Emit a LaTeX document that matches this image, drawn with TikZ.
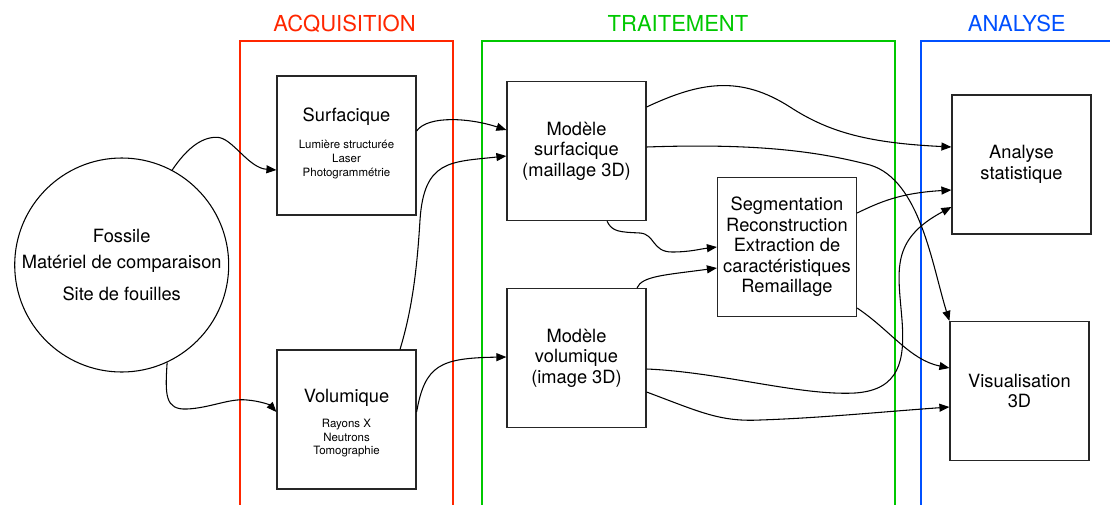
\documentclass[tikz,border=0pt]{standalone}
\usepackage{fontspec}
\setmainfont{TeX Gyre Heros}
\usetikzlibrary{arrows.meta}
\definecolor{acqred}{RGB}{255,38,0}
\definecolor{trtgreen}{RGB}{0,200,0}
\definecolor{anablue}{RGB}{0,80,255}
\newcommand\mainsz{\fontsize{13.7}{15.4}\selectfont}
\newcommand\smallsz{\fontsize{8.6}{10.2}\selectfont}
\newcommand\titlesz{\fontsize{16.5}{19}\selectfont}
\begin{document}
\begin{tikzpicture}[x=0.75pt,y=-0.75pt,
  blk/.style={draw=black!85,line width=0.9pt,minimum width=104.25pt,minimum height=104.25pt,inner sep=0pt,align=center,font=\mainsz},
  arr/.style={draw=black,line width=0.8pt,-{Triangle[length=7.5pt,width=6pt]}},
  frame/.style={line width=1.5pt},
  ttl/.style={anchor=base,font=\titlesz},
  smalltxt/.style={align=center,font=\smallsz,inner sep=0pt},
  maintxt/.style={anchor=base,font=\mainsz,inner sep=0pt}]
\useasboundingbox (0,0) rectangle (1110,504);
% frames
\draw[frame,acqred] (240.3,520) -- (240.3,40.7) -- (452.7,40.7) -- (452.7,520);
\draw[frame,trtgreen] (481.7,520) -- (481.7,40.7) -- (895,40.7) -- (895,520);
\draw[frame,anablue] (920.7,520) -- (920.7,40.7) -- (1130,40.7);
\node[ttl,text=acqred] (tacq) at (344.5,31.7) {ACQUISITION};
\node[ttl,text=trtgreen] (ttrt) at (678,31.7) {TRAITEMENT};
\node[ttl,text=anablue] (tana) at (1016.7,31.7) {ANALYSE};
% source
\node[draw=black,line width=0.8pt,circle,minimum size=160.5pt,inner sep=0pt,align=center,font=\mainsz] (fossile) at (121.7,265)
  {Fossile\\[4.2pt]Matériel de comparaison\\[8.8pt]Site de fouilles};
% boxes
\node[blk] (surf) at (346.5,145.5) {};
\node[maintxt] (surft) at (346.5,121.5) {Surfacique};
\node[smalltxt] (surfl) at (346.5,159.5) {Lumière structurée\\Laser\\Photogrammétrie};
\node[blk] (vol) at (346.5,419.5) {};
\node[maintxt] (volt) at (346.5,402.7) {Volumique};
\node[smalltxt] (voll) at (346.5,438.2) {Rayons X\\Neutrons\\Tomographie};
\node[blk] (msurf) at (576.5,151) {Modèle\\surfacique\\(maillage 3D)};
\node[blk] (mvol) at (576.5,358) {Modèle\\volumique\\(image 3D)};
\node[blk] (seg) at (787,247) {Segmentation\\Reconstruction\\Extraction de\\caractéristiques\\Remaillage};
\node[blk] (stat) at (1021.5,164.5) {Analyse\\statistique};
\node[blk] (visu) at (1019.5,391) {Visualisation\\3D};
% connectors
\draw[arr] (fossile.62.8) .. controls (185,151) and (200,137) .. (216.7,137.3)
  .. controls (232,137) and (248,168) .. (surf.west |- 0,170);
\draw[arr] (fossile.-65.4) .. controls (165,395) and (165,410) .. (187,409)
  .. controls (210,408) and (230,398) .. (247,400)
  .. controls (260,401) and (270,405) .. (vol.west |- 0,412);
\draw[arr] (surf.east |- 0,131) .. controls (428,115) and (470,118) .. (msurf.west |- 0,130);
\draw[arr] (vol.north -| 400,0) .. controls (412,310) and (417,270) .. (420,220)
  .. controls (424,160) and (450,162) .. (msurf.west |- 0,156);
\draw[arr] (vol.east |- 0,412) .. controls (425,365) and (440,358) .. (mvol.west |- 0,357);
\draw[arr] (msurf.east |- 0,107) .. controls (700,82) and (740,75) .. (790,107)
  .. controls (830,133) and (870,143) .. (stat.west |- 0,147);
\draw[arr] (msurf.east |- 0,147) .. controls (760,143) and (820,152) .. (870,165)
  .. controls (920,180) and (932,265) .. (visu.north west);
\draw[arr] (msurf.south -| 607,0) .. controls (612,232) and (620,232) .. (640,233)
  .. controls (655,234) and (652,252) .. (672,252)
  .. controls (690,252) and (700,249) .. (seg.west |- 0,247);
\draw[arr] (mvol.north -| 637,0) .. controls (642,276) and (665,275) .. (seg.west |- 0,268);
\draw[arr] (seg.east |- 0,213) .. controls (880,202) and (900,193) .. (stat.west |- 0,190);
\draw[arr] (mvol.east |- 0,369) .. controls (720,372) and (800,396) .. (855,393)
  .. controls (900,390) and (905,360) .. (902,320)
  .. controls (898,270) and (890,240) .. (stat.west |- 0,207);
\draw[arr] (mvol.east |- 0,392) .. controls (700,412) and (720,422) .. (760,420)
  .. controls (820,418) and (880,412) .. (visu.west |- 0,407);
\draw[arr] (seg.east |- 0,308) .. controls (890,330) and (910,360) .. (visu.west |- 0,368);
\end{tikzpicture}
\end{document}
